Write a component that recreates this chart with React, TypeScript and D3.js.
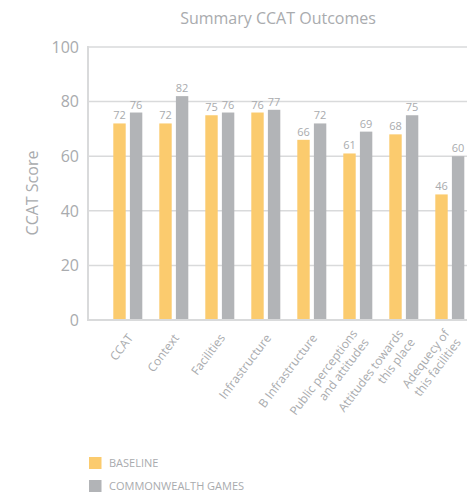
import React from "react";
import * as d3 from "d3";

const categories = [
  "CCAT",
  "Context",
  "Facilities",
  "Infrastructure",
  "B Infrastructure",
  "Public perceptions\nand attitudes",
  "Attitudes towards\nthis place",
  "Adequecy of\nthis facilities",
];
const baseline = [72, 72, 75, 76, 66, 61, 68, 46];
const commonwealth = [76, 82, 76, 77, 72, 69, 75, 60];
const yTicks = [0, 20, 40, 60, 80, 100];
const seriesNames = ["BASELINE", "COMMONWEALTH GAMES"];
const seriesColors = ["#FBCB6E", "#B2B4B7"];

const W = 467;
const H = 492;
const FONT = "'Open Sans', 'Noto Sans', sans-serif";
const TEXT = "#A9ABAE";
const GRID = "#D9DADB";

export default function App() {
  const plotLeft = 88;
  const plotRight = 467;
  const y = d3.scaleLinear().domain([0, 100]).range([320, 47]);
  const x0 = d3.scaleBand<number>().domain(d3.range(categories.length)).range([104.7, 472.7]).padding(0);
  const x1 = d3.scaleBand<number>().domain([0, 1]).range([8.6, 37.6]).paddingInner(0.253).paddingOuter(0);
  const series = [baseline, commonwealth];
  const lineH = 14.5;

  return (
    <svg width={W} height={H} style={{ position: "absolute", left: 0, top: 0, background: "#fff" }} fontFamily={FONT}>
      <text x={278} y={24} textAnchor="middle" fontSize={16} fill={TEXT}>Summary CCAT Outcomes</text>
      {yTicks.map((t) => (
        <g key={t}>
          {t > 0 && <line x1={plotLeft} x2={plotRight} y1={y(t)} y2={y(t)} stroke={GRID} strokeWidth={1.5} />}
          <text x={79} y={y(t)} dy="0.36em" textAnchor="end" fontSize={16} fill={TEXT}>{t}</text>
        </g>
      ))}
      <text transform={`translate(38,193) rotate(-90)`} textAnchor="middle" fontSize={16} fill={TEXT}>CCAT Score</text>
      {categories.map((c, i) => (
        <g key={i} transform={`translate(${x0(i)},0)`}>
          {series.map((s, j) => (
            <g key={j}>
              <rect x={x1(j)} width={x1.bandwidth()} y={y(s[i])} height={y(0) - y(s[i])} fill={seriesColors[j]} />
              <text x={(x1(j) as number) + x1.bandwidth() / 2} y={y(s[i]) - 4} textAnchor="middle" fontSize={11} fill={TEXT}>{s[i]}</text>
            </g>
          ))}
        </g>
      ))}
      <line x1={plotLeft} x2={plotLeft} y1={y(100) - 1} y2={y(0)} stroke={GRID} strokeWidth={2} />
      <line x1={plotLeft - 1} x2={plotRight} y1={y(0)} y2={y(0)} stroke={GRID} strokeWidth={2} />
      {categories.map((c, i) => {
        const cx = (x0(i) as number) + x0.bandwidth() / 2;
        const lines = c.split("\n");
        const first = -((lines.length - 1) / 2) * lineH;
        return (
          <text key={i} transform={`translate(${cx + 6},${338}) rotate(-53)`} textAnchor="end" fontSize={12} fill={TEXT}>
            {lines.map((l, k) => (
              <tspan key={k} x={0} dy={k === 0 ? first : lineH}>{l}</tspan>
            ))}
          </text>
        );
      })}
      {seriesNames.map((n, j) => (
        <g key={n} transform={`translate(89,${457 + j * 23})`}>
          <rect width={12.5} height={12} fill={seriesColors[j]} />
          <text x={20} y={6} dy="0.36em" fontSize={11} fill={TEXT}>{n}</text>
        </g>
      ))}
    </svg>
  );
}
